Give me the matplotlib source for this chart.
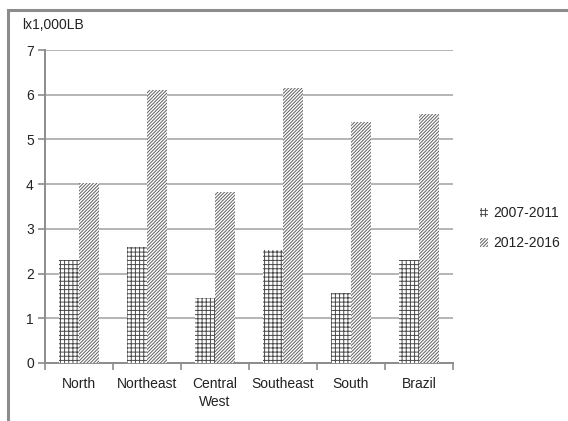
import matplotlib.pyplot as plt
from matplotlib.patches import Rectangle
import numpy as np

regions = ["North", "Northeast", "Central\nWest", "Southeast", "South", "Brazil"]
period_1 = [2.30, 2.60, 1.45, 2.53, 1.56, 2.30]
period_2 = [4.03, 6.10, 3.83, 6.15, 5.38, 5.57]
labels = ["2007-2011", "2012-2016"]
yticks = [0, 1, 2, 3, 4, 5, 6, 7]

plt.rcParams['font.family'] = ['Liberation Sans', 'DejaVu Sans']
plt.rcParams['hatch.linewidth'] = 0.7

fig = plt.figure(figsize=(5.68, 4.21), dpi=100)
ax = fig.add_axes([0.0792, 0.1378, 0.7183, 0.7434])

# outer chart frame
fig.patches.append(Rectangle((8/568, -0.1), 1.2, (421-10)/421 + 0.1,
                             transform=fig.transFigure, fill=False,
                             edgecolor='#8c8c8c', linewidth=2.2))

x = np.arange(len(regions))
w = 0.29
ax.bar(x - w/2, period_1, w, color='white', edgecolor='#4a4a4a',
       hatch='++++', linewidth=0, label=labels[0], zorder=3)
ax.bar(x + w/2, period_2, w, color='white', edgecolor='#606060',
       hatch='/' * 10, linewidth=0, label=labels[1], zorder=3)

ax.set_xlim(-0.5, len(regions) - 0.5)
ax.set_ylim(0, 7)
ax.set_yticks(yticks)
ax.yaxis.grid(True, color='#b4b4b4', linewidth=1.4, zorder=0)
ax.set_axisbelow(True)

ax.set_xticks(x)
ax.set_xticklabels(regions, fontsize=10, color='#222222', linespacing=1.35)
ax.set_xticks(np.arange(-0.5, len(regions)), minor=True)
ax.tick_params(axis='x', which='major', length=0, pad=10)
ax.tick_params(axis='x', which='minor', length=5, color='#8c8c8c', width=1.2)
ax.tick_params(axis='y', length=5, color='#8c8c8c', width=1.2,
               labelsize=10, labelcolor='#222222', pad=3)

for s in ['top', 'right']:
    ax.spines[s].set_visible(False)
for s in ['left', 'bottom']:
    ax.spines[s].set_color('#8c8c8c')
    ax.spines[s].set_linewidth(1.4)

fig.text(22/568, 1 - 25/421, "lx1,000LB", fontsize=10, color='#222222',
         va='center', ha='left')

leg = ax.legend(loc='center left', bbox_to_anchor=(1.035, 0.43),
                frameon=False, fontsize=10, handlelength=0.6,
                handleheight=0.6, handletextpad=0.4, labelspacing=1.15)
for t in leg.get_texts():
    t.set_color('#222222')

fig.savefig('out.png', dpi=100)
